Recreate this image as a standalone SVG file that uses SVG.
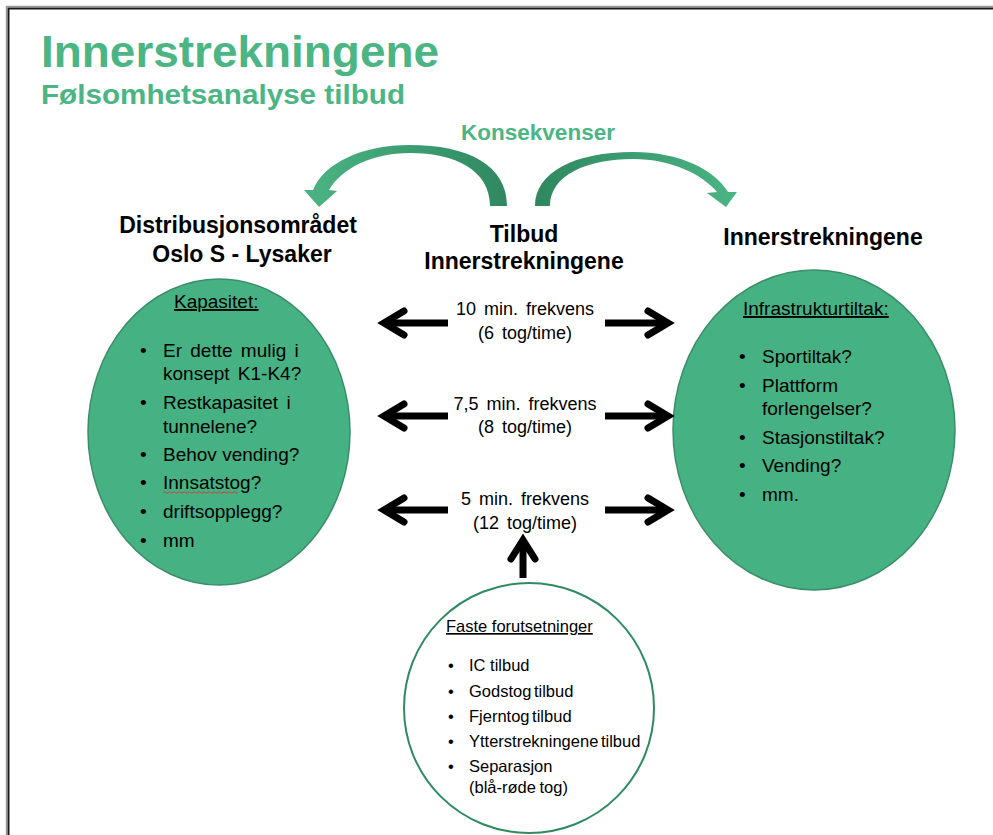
<svg xmlns="http://www.w3.org/2000/svg" width="993" height="835" viewBox="0 0 993 835">
<defs>
<style>
.t{font-family:"Liberation Sans",Arial,sans-serif;}
.g{fill:#4BB584;font-weight:bold;}
.h{fill:#000;font-weight:bold;font-size:23px;text-anchor:middle;}
.b{fill:#000;font-size:19px;}
.s{fill:#000;font-size:16.5px;}
.f{fill:#000;font-size:18px;text-anchor:middle;word-spacing:3px;}
.u{text-decoration:underline;}
.ell{fill:#46B283;stroke:#3A8E68;stroke-width:1.5;}
.arr{fill:none;stroke:#000;stroke-width:7;}
.chev{fill:none;stroke:#000;stroke-width:7;stroke-linejoin:miter;stroke-linecap:round;}
</style>
<linearGradient id="gl" x1="300" y1="0" x2="510" y2="0" gradientUnits="userSpaceOnUse">
<stop offset="0" stop-color="#4BB585"/>
<stop offset="1" stop-color="#2F8760"/>
</linearGradient>
<linearGradient id="gr" x1="535" y1="0" x2="740" y2="0" gradientUnits="userSpaceOnUse">
<stop offset="0" stop-color="#2F8760"/>
<stop offset="1" stop-color="#4BB585"/>
</linearGradient>
</defs>
<rect width="993" height="835" fill="#fff"/>
<rect x="6.5" y="6.5" width="1100" height="1000" fill="none" stroke="#9a9a9a" stroke-width="1.5"/>
<rect x="8.5" y="8.5" width="1100" height="1000" fill="none" stroke="#1a1a1a" stroke-width="2"/>

<g id="title">
<text class="t g" x="41" y="67" font-size="44" textLength="398" lengthAdjust="spacingAndGlyphs">Innerstrekningene</text>
<text class="t g" x="41" y="104" font-size="28" textLength="364" lengthAdjust="spacingAndGlyphs">Følsomhetsanalyse tilbud</text>
</g>

<g id="konsekvenser">
<text class="t g" x="538" y="140" font-size="22.5" text-anchor="middle">Konsekvenser</text>
<path d="M507,206 C507,165 468,145 410,145 C362,145 324,163 313,190 L304,190 L319,207 L337,191 L329,190 C342,168 372,153 410,153 C455,153 490,170 490,206 Z" fill="url(#gl)"/>
<path d="M535,206 C535,172 575,152 633,152 C680,152 715,170 728,192 L737,192 L726,207 L707,193 L717,192 C703,175 672,159 633,159 C587,159 550,175 550,206 Z" fill="url(#gr)"/>
</g>

<g id="tilbud">
<text class="t h" x="524" y="242">Tilbud</text>
<text class="t h" x="524" y="269">Innerstrekningene</text>
</g>

<g id="distribusjon">
<text class="t h" x="238" y="233">Distribusjonsområdet</text>
<text class="t h" x="242" y="262">Oslo S - Lysaker</text>
<ellipse class="ell" cx="219" cy="432" rx="131" ry="153"/>
<text class="t b u" x="174" y="308">Kapasitet:</text>
<g class="t b">
<text x="140" y="357">•</text><text x="163" y="357" word-spacing="3">Er dette mulig i</text>
<text x="163" y="380" word-spacing="3">konsept K1-K4?</text>
<text x="140" y="409">•</text><text x="163" y="409" word-spacing="3">Restkapasitet i</text>
<text x="163" y="433">tunnelene?</text>
<text x="140" y="461">•</text><text x="163" y="461">Behov vending?</text>
<text x="140" y="489">•</text><text x="163" y="489">Innsatstog?</text>
<text x="140" y="518">•</text><text x="163" y="518">driftsopplegg?</text>
<text x="140" y="547">•</text><text x="163" y="547">mm</text>
</g>
<path d="M163,492.5 q1.25,-1.5 2.5,0 t2.5,0 t2.5,0 t2.5,0 t2.5,0 t2.5,0 t2.5,0 t2.5,0 t2.5,0 t2.5,0 t2.5,0 t2.5,0 t2.5,0 t2.5,0 t2.5,0 t2.5,0 t2.5,0 t2.5,0 t2.5,0 t2.5,0 t2.5,0 t2.5,0 t2.5,0 t2.5,0 t2.5,0 t2.5,0 t2.5,0 t2.5,0 t2.5,0 t2.5,0" fill="none" stroke="#e03030" stroke-width="0.9"/>
</g>

<g id="innerstrekningene">
<text class="t h" x="823" y="245">Innerstrekningene</text>
<ellipse class="ell" cx="814" cy="430" rx="141" ry="160"/>
<text class="t b u" x="743" y="315">Infrastrukturtiltak:</text>
<g class="t b">
<text x="739" y="363">•</text><text x="762" y="363">Sportiltak?</text>
<text x="739" y="392">•</text><text x="762" y="392">Plattform</text>
<text x="762" y="415">forlengelser?</text>
<text x="739" y="444">•</text><text x="762" y="444">Stasjonstiltak?</text>
<text x="739" y="472">•</text><text x="762" y="472">Vending?</text>
<text x="739" y="501">•</text><text x="762" y="501">mm.</text>
</g>
</g>

<g id="faste">
<circle cx="529" cy="708" r="125" fill="#fff" stroke="#2E8B5F" stroke-width="2"/>
<text class="t s u" x="446" y="632">Faste forutsetninger</text>
<g class="t s">
<text x="448" y="671">•</text><text x="469" y="671">IC tilbud</text>
<text x="448" y="697">•</text><text x="469" y="697" word-spacing="-2">Godstog tilbud</text>
<text x="448" y="722">•</text><text x="469" y="722" word-spacing="-2">Fjerntog tilbud</text>
<text x="448" y="747">•</text><text x="469" y="747" word-spacing="-2">Ytterstrekningene tilbud</text>
<text x="448" y="772">•</text><text x="469" y="772">Separasjon</text>
<text x="469" y="793" word-spacing="-1">(blå-røde tog)</text>
</g>
</g>

<g id="frekvens">
<text class="t f" x="525" y="315">10 min. frekvens</text>
<text class="t f" x="525" y="339">(6 tog/time)</text>
<text class="t f" x="525" y="410">7,5 min. frekvens</text>
<text class="t f" x="525" y="433">(8 tog/time)</text>
<text class="t f" x="525" y="505">5 min. frekvens</text>
<text class="t f" x="525" y="529">(12 tog/time)</text>
</g>

<g id="connectors">
<path class="arr" d="M448,323 H386"/>
<path class="chev" d="M404,311 L384,323 L404,335"/>
<path class="arr" d="M605,323 H666"/>
<path class="chev" d="M648,311 L668,323 L648,335"/>
<path class="arr" d="M448,416 H386"/>
<path class="chev" d="M404,404 L384,416 L404,428"/>
<path class="arr" d="M605,416 H666"/>
<path class="chev" d="M648,404 L668,416 L648,428"/>
<path class="arr" d="M448,510 H386"/>
<path class="chev" d="M404,498 L384,510 L404,522"/>
<path class="arr" d="M605,510 H666"/>
<path class="chev" d="M648,498 L668,510 L648,522"/>
<path class="arr" d="M523,578 V543"/>
<path class="chev" d="M511,559 L523,540 L535,559"/>
</g>
</svg>
